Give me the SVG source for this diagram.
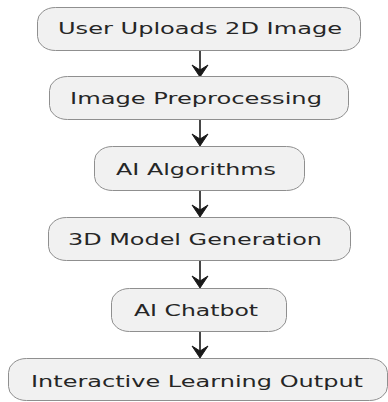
<svg xmlns="http://www.w3.org/2000/svg" width="388" height="402" viewBox="0 0 388 402">
<style>
.box{fill:#F1F1F1;stroke:#8f8f8f;stroke-width:1}
.lbl{font-family:"DejaVu Sans",sans-serif;font-size:16px;fill:#262626;text-anchor:middle}
.edge{stroke:#181818;stroke-width:1.6;fill:none}
.head{fill:#181818;stroke:#181818;stroke-width:1}
</style>
<rect width="388" height="402" fill="#ffffff"/>
<g id="connectors">
<line class="edge" x1="200" y1="50" x2="200" y2="72"/>
<polygon class="head" points="200,77 192,65 200,70 208,65"/>
<line class="edge" x1="200" y1="119" x2="200" y2="142"/>
<polygon class="head" points="200,146 192,134 200,139 208,134"/>
<line class="edge" x1="200" y1="191" x2="200" y2="213"/>
<polygon class="head" points="200,217 192,205 200,210 208,205"/>
<line class="edge" x1="200" y1="261" x2="200" y2="284"/>
<polygon class="head" points="200,288 192,276 200,281 208,276"/>
<line class="edge" x1="200" y1="332" x2="200" y2="354"/>
<polygon class="head" points="200,358 192,346 200,351 208,346"/>
</g>
<g id="n1">
<rect class="box" x="37.5" y="7.5" width="323" height="43" rx="18" ry="14"/>
<text class="lbl" x="200" y="34" textLength="284" lengthAdjust="spacingAndGlyphs">User Uploads 2D Image</text>
</g>
<g id="n2">
<rect class="box" x="49.5" y="76.5" width="299" height="43" rx="18" ry="14"/>
<text class="lbl" x="196" y="104" textLength="252" lengthAdjust="spacingAndGlyphs">Image Preprocessing</text>
</g>
<g id="n3">
<rect class="box" x="94.5" y="146.5" width="210" height="44" rx="18" ry="14"/>
<text class="lbl" x="196" y="175" textLength="160" lengthAdjust="spacingAndGlyphs">AI Algorithms</text>
</g>
<g id="n4">
<rect class="box" x="48.5" y="217.5" width="302" height="43" rx="18" ry="14"/>
<text class="lbl" x="195" y="245" textLength="254" lengthAdjust="spacingAndGlyphs">3D Model Generation</text>
</g>
<g id="n5">
<rect class="box" x="111.5" y="288.5" width="175" height="43" rx="18" ry="14"/>
<text class="lbl" x="196" y="316" textLength="124" lengthAdjust="spacingAndGlyphs">AI Chatbot</text>
</g>
<g id="n6">
<rect class="box" x="8.5" y="358.5" width="379" height="42" rx="18" ry="14"/>
<text class="lbl" x="197" y="387" textLength="332" lengthAdjust="spacingAndGlyphs">Interactive Learning Output</text>
</g>
</svg>
